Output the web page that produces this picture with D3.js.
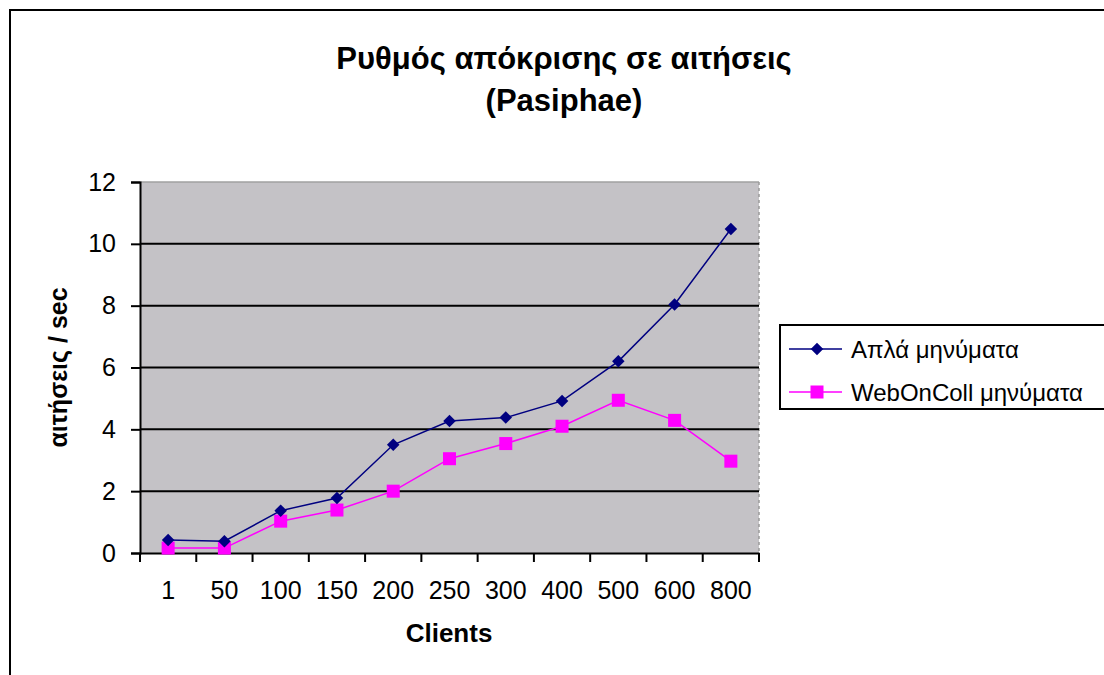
<!DOCTYPE html>
<html>
<head>
<meta charset="utf-8">
<script src="https://cdn.jsdelivr.net/npm/d3@7"></script>
<style>
  body { margin: 0; background: #fff; }
  text { font-family: "Liberation Sans", Arial, sans-serif; }
</style>
</head>
<body>
<div id="chart"></div>
<script>
// δεδομένα
const clients = ["1", "50", "100", "150", "200", "250", "300", "400", "500", "600", "800"];
const aplaValues = [0.42, 0.38, 1.37, 1.78, 3.5, 4.27, 4.38, 4.92, 6.2, 8.04, 10.48];
const webOnCollValues = [0.16, 0.16, 1.03, 1.39, 2.0, 3.05, 3.54, 4.1, 4.94, 4.29, 2.97];
const yTicks = [0, 2, 4, 6, 8, 10, 12];
const seriesNames = ["Απλά μηνύματα", "WebOnColl μηνύματα"];

const width = 1104, height = 675;
const plot = { left: 140, right: 759, top: 182, bottom: 553 };

const svg = d3.select("#chart").append("svg")
    .attr("width", width)
    .attr("height", height);

// πλαίσιο
svg.append("rect")
    .attr("x", 10).attr("y", 10)
    .attr("width", 1110).attr("height", 700)
    .attr("fill", "#fff").attr("stroke", "#000").attr("stroke-width", 2);

const x = d3.scaleBand().domain(clients).range([plot.left, plot.right]);
const y = d3.scaleLinear().domain([0, 12]).range([plot.bottom, plot.top]);

// περιοχή γραφήματος
svg.append("rect")
    .attr("x", plot.left).attr("y", plot.top)
    .attr("width", plot.right - plot.left).attr("height", plot.bottom - plot.top)
    .attr("fill", "#c4c2c6");

svg.append("line")
    .attr("x1", plot.left).attr("x2", plot.right)
    .attr("y1", plot.top).attr("y2", plot.top)
    .attr("stroke", "#a0a0a0").attr("stroke-width", 1.5);
svg.append("line")
    .attr("x1", plot.right).attr("x2", plot.right)
    .attr("y1", plot.top).attr("y2", plot.bottom)
    .attr("stroke", "#9a9a9a").attr("stroke-width", 1.5)
    .attr("stroke-dasharray", "3,3");

// γραμμές πλέγματος
svg.append("g").selectAll("line")
    .data(yTicks.filter(d => d > 0 && d < 12))
    .enter().append("line")
    .attr("x1", plot.left).attr("x2", plot.right)
    .attr("y1", d => y(d)).attr("y2", d => y(d))
    .attr("stroke", "#000").attr("stroke-width", 2);

// άξονας y
const yAxis = svg.append("g")
    .attr("transform", `translate(${plot.left},0)`)
    .call(d3.axisLeft(y).tickValues(yTicks).tickSize(9).tickPadding(15));
yAxis.select(".domain").attr("stroke", "#000").attr("stroke-width", 2);
yAxis.selectAll(".tick line").attr("stroke", "#000").attr("stroke-width", 2);
yAxis.selectAll(".tick text")
    .attr("font-size", 25).attr("fill", "#000")
    .style("font-family", "'Liberation Sans', Arial, sans-serif");

// άξονας x
const xAxis = svg.append("g")
    .attr("transform", `translate(0,${plot.bottom})`)
    .call(d3.axisBottom(x).tickSize(0).tickPadding(28));
xAxis.select(".domain").attr("stroke", "#000").attr("stroke-width", 2);
xAxis.selectAll(".tick text")
    .attr("font-size", 25).attr("fill", "#000")
    .style("font-family", "'Liberation Sans', Arial, sans-serif");

svg.append("g").selectAll("line")
    .data(clients.map(c => x(c)).concat([plot.right]))
    .enter().append("line")
    .attr("x1", d => d).attr("x2", d => d)
    .attr("y1", plot.bottom).attr("y2", plot.bottom + 9)
    .attr("stroke", "#000").attr("stroke-width", 2);

// γραμμές σειρών
const cx = c => x(c) + x.bandwidth() / 2;
const line = d3.line().x((d, i) => cx(clients[i])).y(d => y(d));

svg.append("path")
    .datum(webOnCollValues)
    .attr("d", line)
    .attr("fill", "none").attr("stroke", "#ff00ff").attr("stroke-width", 1.5);

svg.append("g").selectAll("rect")
    .data(webOnCollValues)
    .enter().append("rect")
    .attr("x", (d, i) => cx(clients[i]) - 6.5)
    .attr("y", d => y(d) - 6.5)
    .attr("width", 13).attr("height", 13)
    .attr("fill", "#ff00ff");

svg.append("path")
    .datum(aplaValues)
    .attr("d", line)
    .attr("fill", "none").attr("stroke", "#000080").attr("stroke-width", 1.5);

const diamond = d3.symbol().type(d3.symbolDiamond2).size(100);
svg.append("g").selectAll("path")
    .data(aplaValues)
    .enter().append("path")
    .attr("d", diamond)
    .attr("transform", (d, i) => `translate(${cx(clients[i])},${y(d)})`)
    .attr("fill", "#000080");

// τίτλος
svg.append("text")
    .attr("x", 564).attr("y", 69)
    .attr("text-anchor", "middle")
    .attr("font-size", 31).attr("font-weight", "bold")
    .text("Ρυθμός απόκρισης σε αιτήσεις");
svg.append("text")
    .attr("x", 564).attr("y", 111)
    .attr("text-anchor", "middle")
    .attr("font-size", 31).attr("font-weight", "bold")
    .text("(Pasiphae)");

// ετικέτες αξόνων
svg.append("text")
    .attr("transform", `translate(67,${(plot.top + plot.bottom) / 2}) rotate(-90)`)
    .attr("text-anchor", "middle")
    .attr("font-size", 25).attr("font-weight", "bold")
    .text("αιτήσεις / sec");
svg.append("text")
    .attr("x", 449).attr("y", 642)
    .attr("text-anchor", "middle")
    .attr("font-size", 26).attr("font-weight", "bold")
    .text("Clients");

// υπόμνημα
const legend = svg.append("g").attr("transform", "translate(780,325)");
legend.append("rect")
    .attr("width", 330).attr("height", 84)
    .attr("fill", "#fff").attr("stroke", "#000").attr("stroke-width", 2);

const legendColors = ["#000080", "#ff00ff"];
seriesNames.forEach((name, i) => {
    const ly = 24 + i * 43;
    legend.append("line")
        .attr("x1", 9).attr("x2", 62)
        .attr("y1", ly).attr("y2", ly)
        .attr("stroke", legendColors[i]).attr("stroke-width", 1.5);
    if (i === 0) {
        legend.append("path")
            .attr("d", diamond)
            .attr("transform", `translate(37,${ly})`)
            .attr("fill", legendColors[i]);
    } else {
        legend.append("rect")
            .attr("x", 30.5).attr("y", ly - 6.5)
            .attr("width", 13).attr("height", 13)
            .attr("fill", legendColors[i]);
    }
    legend.append("text")
        .attr("x", 71).attr("y", ly + 8.5)
        .attr("font-size", 24)
        .text(name);
});
</script>
</body>
</html>
